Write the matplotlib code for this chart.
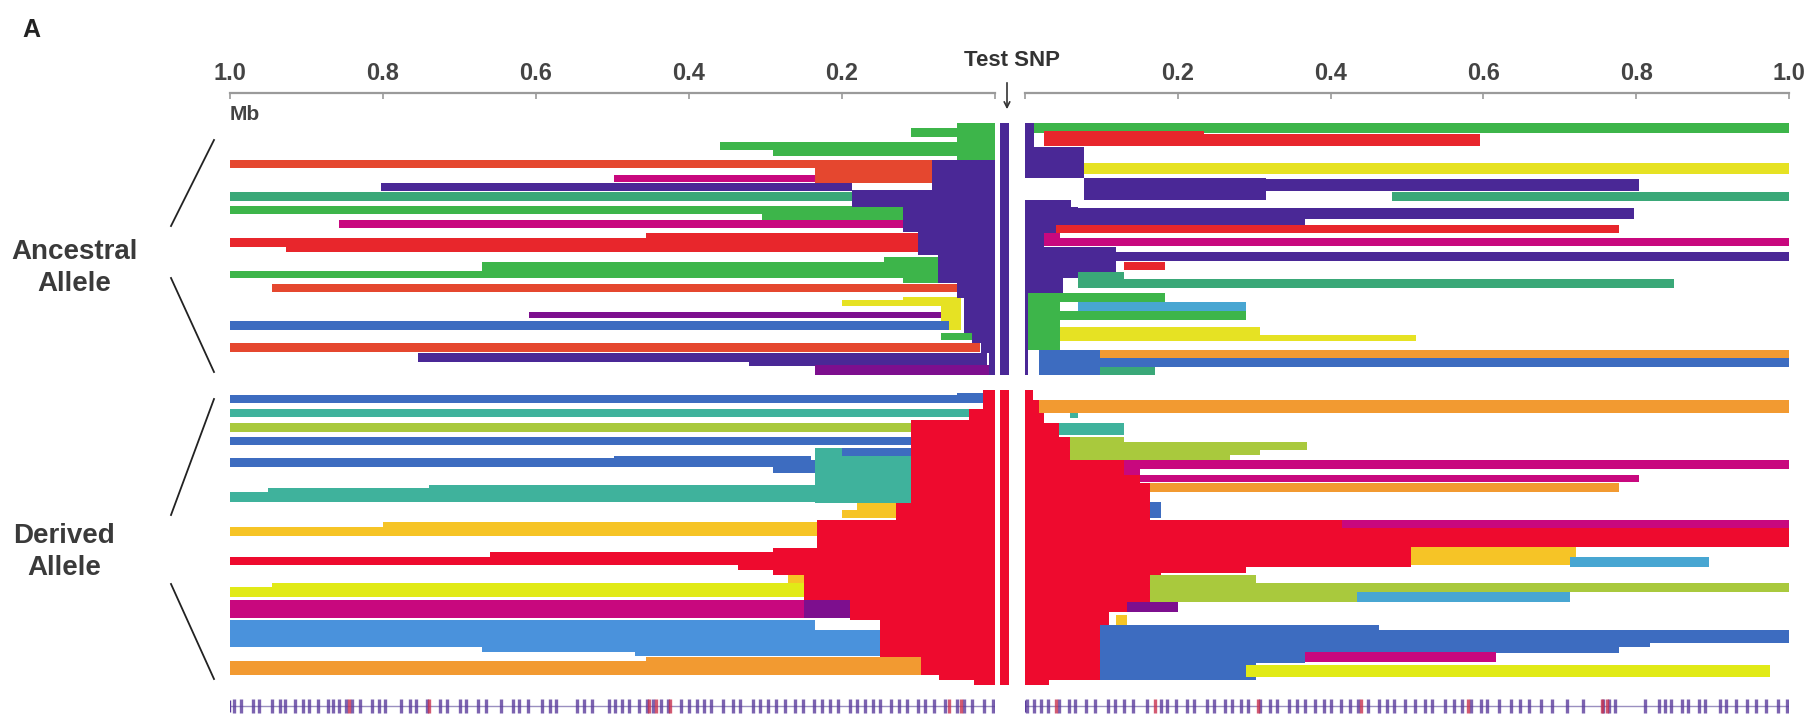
import matplotlib
matplotlib.use("Agg")
import matplotlib.pyplot as plt

plt.rcParams['font.family'] = ['Liberation Sans', 'DejaVu Sans']

# 색깔 = 하플로타입 그룹
pal = {
    'green': '#3db54a', 'green2': '#3aa878', 'red': '#e8262c', 'red2': '#e5472f',
    'magenta': '#c8087e', 'purple': '#4a2896', 'violet': '#7d0f8e', 'blue': '#3d6cc0',
    'yellow': '#e6e223', 'orange': '#f29a31', 'lime': '#a9c93d', 'teal': '#3fb29c',
    'ltblue': '#48a6d2', 'ltblue2': '#4a92dc', 'yorange': '#f6c426', 'ygreen': '#e1ea17',
    'dred': '#ee0a2e',
}

left_ticks = [1.0, 0.8, 0.6, 0.4, 0.2]
right_ticks = [0.2, 0.4, 0.6, 0.8, 1.0]

# (Mb 시작, Mb 끝, 트랙 위, 트랙 아래, 그룹)
anc_left = [
    (0.045, 0, 123, 128, 'green'), (0.11, 0, 128, 137, 'green'),
    (0.36, 0.04, 142, 150, 'green'), (0.29, 0.04, 150, 156, 'green'),
    (0.05, 0, 123, 160, 'green'),
    (1.0, 0.082, 160, 168, 'red2'), (0.235, 0.082, 160, 183, 'red2'),
    (0.498, 0.235, 175, 182, 'magenta'),
    (0.802, 0.187, 183, 191, 'purple'),
    (1.0, 0.187, 192, 201, 'green2'),
    (1.0, 0.12, 206, 214, 'green'), (0.304, 0.12, 206, 220, 'green'),
    (0.858, 0.12, 220, 228, 'magenta'),
    (0.456, 0.10, 233, 252, 'red'), (1.0, 0.10, 238, 247, 'red'), (0.927, 0.10, 247, 252, 'red'),
    (0.145, 0.075, 257, 263, 'green'), (0.671, 0.075, 262, 272, 'green'),
    (1.0, 0.075, 271, 278, 'green'), (0.12, 0.06, 257, 283, 'green'),
    (0.945, 0.05, 284, 292, 'red2'),
    (0.2, 0.05, 300, 306, 'yellow'), (0.12, 0.05, 297, 303, 'yellow'), (0.07, 0.045, 297, 330, 'yellow'),
    (0.609, 0.07, 312, 318, 'violet'),
    (1.0, 0.06, 321, 330, 'blue'),
    (0.07, 0.03, 333, 340, 'green'),
    (1.0, 0.02, 343, 352, 'red2'),
    (0.754, 0.01, 353, 362, 'purple'), (0.321, 0.01, 360, 366, 'purple'),
    (0.235, 0, 365, 375, 'violet'),
]
# 중심 코어 (위, 아래, 폭 Mb)
anc_left_core = [
    (160, 190, 0.082), (190, 207, 0.187), (207, 232, 0.12), (232, 255, 0.10),
    (255, 283, 0.075), (283, 298, 0.05), (298, 333, 0.04), (333, 343, 0.03),
    (343, 353, 0.018), (353, 375, 0.008),
]

anc_right = [
    (0.011, 1.0, 123, 133, 'green'),
    (0.025, 0.596, 134, 146, 'red'), (0.025, 0.234, 131, 146, 'red'),
    (0.077, 1.0, 163, 174, 'yellow'),
    (0.077, 0.804, 179, 191, 'purple'), (0.077, 0.316, 178, 200, 'purple'),
    (0.48, 1.0, 192, 201, 'green2'),
    (0.07, 0.797, 208, 219, 'purple'), (0.07, 0.366, 208, 225, 'purple'),
    (0.04, 0.777, 225, 233, 'red'),
    (0.025, 1.0, 238, 246, 'magenta'), (0.025, 0.046, 233, 246, 'magenta'),
    (0.119, 1.0, 252, 261, 'purple'), (0.025, 0.119, 247, 277, 'purple'),
    (0.129, 0.183, 262, 270, 'red'),
    (0.07, 0.85, 279, 288, 'green2'), (0.07, 0.129, 272, 288, 'green2'),
    (0, 0.183, 293, 302, 'green'),
    (0.07, 0.289, 302, 311, 'ltblue'),
    (0.046, 0.289, 311, 320, 'green'),
    (0.046, 0.307, 327, 336, 'yellow'), (0.046, 0.512, 335, 341, 'yellow'),
    (0, 0.046, 293, 350, 'green'),
    (0.098, 1.0, 350, 358, 'orange'),
    (0.018, 1.0, 358, 367, 'blue'), (0.018, 0.098, 350, 375, 'blue'),
    (0.098, 0.17, 367, 375, 'green2'),
]
anc_right_core = [
    (123, 147, 0.012), (147, 178, 0.077), (200, 207, 0.06), (207, 225, 0.07),
    (225, 233, 0.04), (233, 252, 0.025), (252, 262, 0.119), (262, 278, 0.07),
    (278, 293, 0.05), (293, 375, 0.004),
]

der_left = [
    (1.0, 0.05, 395, 403, 'blue'), (0.05, 0.016, 393, 403, 'blue'),
    (1.0, 0.034, 409, 417, 'teal'),
    (1.0, 0.11, 423, 432, 'lime'),
    (1.0, 0.11, 437, 445, 'blue'),
    (0.235, 0.11, 448, 503, 'teal'), (0.2, 0.11, 448, 456, 'blue'),
    (1.0, 0.24, 458, 467, 'blue'), (0.498, 0.24, 456, 467, 'blue'), (0.29, 0.235, 460, 473, 'blue'),
    (0.74, 0.11, 485, 502, 'teal'), (1.0, 0.11, 492, 502, 'teal'), (0.95, 0.74, 488, 502, 'teal'),
    (0.2, 0.13, 510, 518, 'yorange'), (0.18, 0.13, 503, 510, 'yorange'),
    (1.0, 0.233, 527, 536, 'yorange'), (0.80, 0.233, 522, 536, 'yorange'),
    (1.0, 0, 557, 565, 'dred'), (0.66, 0, 552, 565, 'dred'), (0.336, 0, 565, 570, 'dred'),
    (0.29, 0, 570, 575, 'dred'), (0.27, 0, 575, 577, 'dred'),
    (0.27, 0.25, 575, 583, 'yorange'),
    (1.0, 0.25, 587, 597, 'ygreen'), (0.945, 0.25, 583, 597, 'ygreen'),
    (1.0, 0.19, 600, 618, 'magenta'), (0.25, 0.19, 597, 618, 'violet'),
    (1.0, 0.235, 620, 630, 'ltblue2'), (1.0, 0.15, 630, 647, 'ltblue2'),
    (0.67, 0.15, 647, 652, 'ltblue2'), (0.47, 0.15, 652, 656, 'ltblue2'),
    (1.0, 0.097, 661, 675, 'orange'), (0.456, 0.097, 657, 661, 'orange'),
]
der_left_core = [
    (390, 409, 0.016), (409, 420, 0.034), (420, 503, 0.11), (503, 520, 0.13),
    (520, 548, 0.233), (548, 552, 0.29), (577, 600, 0.25), (600, 620, 0.19),
    (620, 657, 0.15), (657, 675, 0.097), (675, 680, 0.073), (680, 685, 0.027),
]

der_right = [
    (0.018, 1.0, 400, 413, 'orange'),
    (0.059, 0.07, 413, 418, 'teal'),
    (0.025, 0.129, 423, 435, 'teal'),
    (0.059, 0.369, 442, 450, 'lime'), (0.059, 0.307, 449, 455, 'lime'),
    (0.129, 0.268, 455, 460, 'lime'), (0.059, 0.129, 437, 468, 'lime'),
    (0.129, 1.0, 460, 469, 'magenta'), (0.129, 0.15, 463, 480, 'magenta'),
    (0.15, 0.804, 475, 482, 'magenta'),
    (0.133, 0.777, 483, 492, 'orange'),
    (0.164, 0.178, 502, 518, 'blue'),
    (0.178, 1.0, 520, 547, 'dred'), (0.415, 1.0, 520, 528, 'magenta'),
    (0.178, 0.505, 547, 567, 'dred'), (0.505, 0.721, 547, 565, 'yorange'),
    (0.714, 0.895, 557, 567, 'ltblue'),
    (0.178, 0.289, 567, 573, 'dred'),
    (0.164, 0.303, 575, 583, 'lime'), (0.164, 1.0, 583, 592, 'lime'),
    (0.164, 0.435, 592, 602, 'lime'), (0.435, 0.714, 592, 602, 'ltblue'),
    (0.133, 0.2, 602, 612, 'violet'),
    (0.119, 0.133, 615, 625, 'yorange'),
    (0.098, 0.463, 625, 630, 'blue'), (0.098, 1.0, 630, 643, 'blue'),
    (0.098, 0.818, 643, 647, 'blue'), (0.098, 0.777, 647, 653, 'blue'),
    (0.098, 0.366, 653, 663, 'blue'), (0.098, 0.303, 663, 680, 'blue'),
    (0.366, 0.617, 652, 662, 'magenta'),
    (0.289, 0.975, 665, 677, 'ygreen'),
]
der_right_core = [
    (390, 400, 0.011), (400, 413, 0.018), (413, 423, 0.025), (423, 437, 0.045),
    (437, 460, 0.059), (460, 475, 0.129), (475, 483, 0.15), (483, 520, 0.164),
    (520, 575, 0.178), (575, 602, 0.164), (602, 612, 0.133), (612, 625, 0.11),
    (625, 680, 0.098), (680, 685, 0.031),
]

# 테스트 SNP 마커 (위, 아래, 그룹)
test_snp = [(123, 375, 'purple'), (390, 685, 'dred')]

# 아래쪽 SNP 위치 (Mb)
snp_left = [0.995, 0.985, 0.97, 0.962, 0.945, 0.935, 0.928, 0.915, 0.905, 0.897, 0.885, 0.872,
            0.866, 0.858, 0.848, 0.84, 0.83, 0.814, 0.805, 0.797, 0.776, 0.765, 0.757, 0.742,
            0.726, 0.716, 0.70, 0.692, 0.676, 0.665, 0.646, 0.63, 0.622, 0.611, 0.592, 0.582,
            0.574, 0.547, 0.537, 0.527, 0.505, 0.497, 0.488, 0.478, 0.466, 0.455, 0.447, 0.437,
            0.427, 0.41, 0.40, 0.39, 0.38, 0.371, 0.356, 0.342, 0.333, 0.316, 0.307, 0.297,
            0.286, 0.275, 0.262, 0.251, 0.236, 0.226, 0.216, 0.205, 0.19, 0.181, 0.17, 0.16,
            0.15, 0.136, 0.126, 0.115, 0.10, 0.091, 0.08, 0.065, 0.05, 0.04, 0.03, 0.015, 0.003]
snp_left_red = [0.845, 0.74, 0.452, 0.443, 0.425, 0.06, 0.045]
snp_right = [0.003, 0.012, 0.021, 0.03, 0.045, 0.058, 0.066, 0.08, 0.092, 0.108, 0.118, 0.13,
             0.142, 0.16, 0.178, 0.186, 0.197, 0.212, 0.221, 0.238, 0.247, 0.262, 0.271, 0.283,
             0.292, 0.308, 0.321, 0.33, 0.346, 0.356, 0.366, 0.38, 0.391, 0.4, 0.414, 0.426,
             0.436, 0.449, 0.463, 0.474, 0.483, 0.497, 0.51, 0.524, 0.533, 0.55, 0.561, 0.572,
             0.584, 0.597, 0.605, 0.62, 0.636, 0.648, 0.66, 0.675, 0.69, 0.71, 0.73, 0.756,
             0.764, 0.772, 0.812, 0.83, 0.838, 0.846, 0.86, 0.868, 0.882, 0.89, 0.91, 0.918,
             0.93, 0.945, 0.957, 0.97, 0.985, 0.997]
snp_right_red = [0.04, 0.17, 0.305, 0.44, 0.58, 0.755, 0.762]

W, H = 1814, 722
fig = plt.figure(figsize=(W / 100, H / 100), dpi=100)
fig.patch.set_facecolor('white')

ax_top = 93  # 축선 위치 (px)
axL = fig.add_axes([230 / W, 0, 765 / W, 1 - ax_top / H])
axR = fig.add_axes([1025 / W, 0, 764 / W, 1 - ax_top / H])
axC = fig.add_axes([995 / W, 0, 25 / W, 1 - ax_top / H])


def draw_rects(ax, rects):
    for a, b, t, bt, g in rects:
        lo, hi = min(a, b), max(a, b)
        ax.barh((t + bt) / 2, hi - lo, height=bt - t, left=lo, color=pal[g], linewidth=0)


def draw_core(ax, core, g):
    for t, bt, w in core:
        ax.barh((t + bt) / 2, w, height=bt - t, left=0, color=pal[g], linewidth=0)


draw_rects(axL, anc_left)
draw_core(axL, anc_left_core, 'purple')
draw_rects(axL, der_left)
draw_core(axL, der_left_core, 'dred')
draw_rects(axR, anc_right)
draw_core(axR, anc_right_core, 'purple')
draw_rects(axR, der_right)
draw_core(axR, der_right_core, 'dred')

for t, bt, g in test_snp:
    axC.barh((t + bt) / 2, 0.36, height=bt - t, left=-0.3, color=pal[g], linewidth=0)

# SNP 눈금줄
for ax, pos, red in [(axL, snp_left, snp_left_red), (axR, snp_right, snp_right_red)]:
    ax.plot([0, 1.0], [706, 706], color='#9a8fc0', lw=1)
    ax.vlines(pos, 699, 713, color='#5b3c9c', lw=2.4, alpha=0.8)
    ax.vlines(red, 699, 713, color='#c8324f', lw=2.4, alpha=0.8)
    ax.vlines([0, 1.0], 700, 712, color='#5b3c9c', lw=1)

axL.set_xlim(1.0, 0.0)
axR.set_xlim(0.0, 1.0)
axC.set_xlim(-0.5, 0.5)
for ax in (axL, axR, axC):
    ax.set_ylim(H, ax_top)
    ax.set_facecolor('none')
    for s in ('left', 'right', 'bottom'):
        ax.spines[s].set_visible(False)
    ax.spines['top'].set_color('#9a9a9a')
    ax.spines['top'].set_linewidth(1.6)
    ax.set_yticks([])
axC.spines['top'].set_visible(False)
axC.set_xticks([])

for ax, ticks in [(axL, left_ticks), (axR, right_ticks)]:
    ax.xaxis.tick_top()
    ax.set_xticks(ticks)
    ax.set_xticklabels([f"{t:.1f}" for t in ticks])
    ax.tick_params(axis='x', direction='in', length=4, width=1.2, color='#9a9a9a',
                   pad=6, labelsize=17, labelcolor='#444444')
    for lab in ax.get_xticklabels():
        lab.set_fontweight('bold')
    ax.set_xticks([0.0], minor=True)
    ax.tick_params(axis='x', which='minor', direction='in', length=4, width=1.2, color='#9a9a9a')

# 주석용 오버레이
ov = fig.add_axes([0, 0, 1, 1])
ov.set_xlim(0, W)
ov.set_ylim(H, 0)
ov.axis('off')

ov.text(22, 30, "A", fontsize=18, fontweight='bold', color='#222222', va='center', ha='left')
ov.text(1012, 60, "Test SNP", fontsize=16, fontweight='bold', color='#333333', ha='center', va='center')
ov.annotate("", xy=(1007, 112), xytext=(1007, 80),
            arrowprops=dict(arrowstyle='->', color='#333333', lw=1.2))
ov.text(230, 115, "Mb", fontsize=15, fontweight='bold', color='#444444', ha='left', va='center')

ov.text(74, 252, "Ancestral", fontsize=20, fontweight='bold', color='#3a3a3a', ha='center', va='center')
ov.text(74, 284, "Allele", fontsize=20, fontweight='bold', color='#3a3a3a', ha='center', va='center')
ov.text(64, 536, "Derived", fontsize=20, fontweight='bold', color='#3a3a3a', ha='center', va='center')
ov.text(64, 568, "Allele", fontsize=20, fontweight='bold', color='#3a3a3a', ha='center', va='center')

for (x0, y0, x1, y1) in [(214, 140, 171, 226), (171, 278, 214, 372),
                         (214, 399, 171, 515), (171, 584, 214, 679)]:
    ov.plot([x0, x1], [y0, y1], color='#222222', lw=1.3)

fig.savefig("out.png", dpi=100)
